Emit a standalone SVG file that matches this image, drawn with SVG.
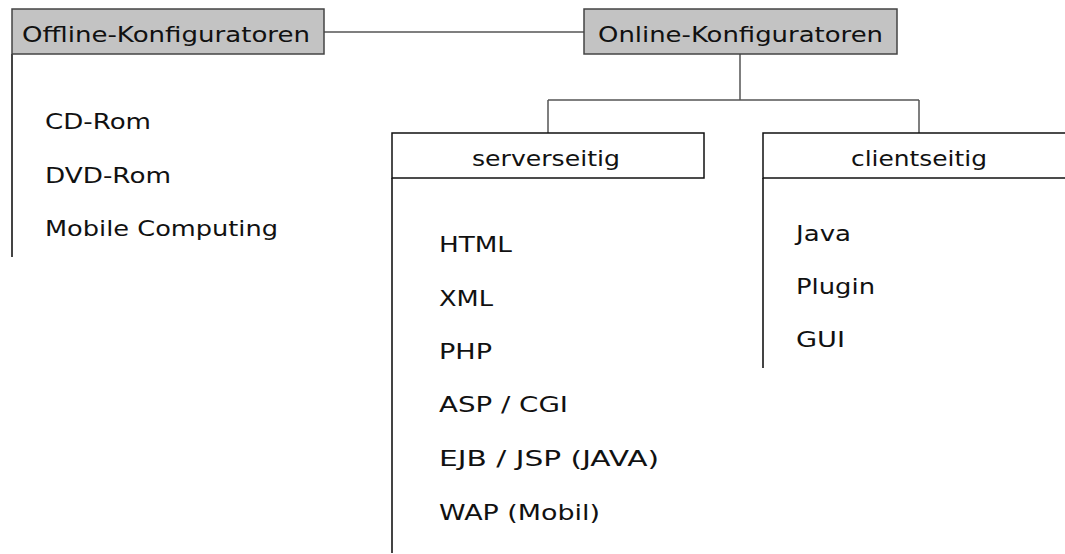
<svg xmlns="http://www.w3.org/2000/svg" width="1065" height="554" viewBox="0 0 1065 554">
<style>
  .title { fill: #c3c3c3; stroke: #444; stroke-width: 1.5; }
  .sub { fill: #fff; stroke: #111; stroke-width: 1.5; }
  .side { stroke: #444; stroke-width: 2; fill: none; }
  .conn line { stroke: #555; stroke-width: 1.5; }
  text { font-family: "DejaVu Sans", Verdana, sans-serif; fill: #111; }
  .t { font-size: 21px; }
  .i { font-size: 22px; }
</style>
<rect width="1065" height="554" fill="#fff"/>
<g id="connectors" class="conn">
  <line x1="324" y1="32" x2="584" y2="32"/>
  <line x1="740" y1="54" x2="740" y2="100"/>
  <line x1="548" y1="100" x2="919" y2="100"/>
  <line x1="548" y1="100" x2="548" y2="133"/>
  <line x1="919" y1="100" x2="919" y2="133"/>
</g>
<g id="offline">
  <line class="side" x1="12" y1="54" x2="12" y2="257"/>
  <rect class="title" x="12" y="9" width="312" height="45"/>
  <text class="t" x="22" y="42" textLength="288" lengthAdjust="spacingAndGlyphs">Offline-Konfiguratoren</text>
  <text class="i" x="45" y="129" textLength="106" lengthAdjust="spacingAndGlyphs">CD-Rom</text>
  <text class="i" x="45" y="183" textLength="126" lengthAdjust="spacingAndGlyphs">DVD-Rom</text>
  <text class="i" x="45" y="236" textLength="233" lengthAdjust="spacingAndGlyphs">Mobile Computing</text>
</g>
<g id="online">
  <rect class="title" x="584" y="9" width="313" height="45"/>
  <text class="t" x="598" y="42" textLength="285" lengthAdjust="spacingAndGlyphs">Online-Konfiguratoren</text>
</g>
<g id="serverseitig">
  <line class="side" x1="392" y1="178" x2="392" y2="553"/>
  <rect class="sub" x="392" y="133" width="312" height="45"/>
  <text class="t" x="472" y="166" textLength="148" lengthAdjust="spacingAndGlyphs">serverseitig</text>
  <text class="i" x="439" y="252" textLength="73" lengthAdjust="spacingAndGlyphs">HTML</text>
  <text class="i" x="439" y="306" textLength="54" lengthAdjust="spacingAndGlyphs">XML</text>
  <text class="i" x="439" y="359" textLength="53" lengthAdjust="spacingAndGlyphs">PHP</text>
  <text class="i" x="439" y="412" textLength="129" lengthAdjust="spacingAndGlyphs">ASP / CGI</text>
  <text class="i" x="439" y="466" textLength="220" lengthAdjust="spacingAndGlyphs">EJB / JSP (JAVA)</text>
  <text class="i" x="439" y="520" textLength="161" lengthAdjust="spacingAndGlyphs">WAP (Mobil)</text>
</g>
<g id="clientseitig">
  <line class="side" x1="763" y1="178" x2="763" y2="368"/>
  <rect class="sub" x="763" y="133" width="312" height="45"/>
  <text class="t" x="851" y="166" textLength="136" lengthAdjust="spacingAndGlyphs">clientseitig</text>
  <text class="i" x="796" y="241" textLength="55" lengthAdjust="spacingAndGlyphs">Java</text>
  <text class="i" x="796" y="294" textLength="79" lengthAdjust="spacingAndGlyphs">Plugin</text>
  <text class="i" x="796" y="347" textLength="49" lengthAdjust="spacingAndGlyphs">GUI</text>
</g>
</svg>
